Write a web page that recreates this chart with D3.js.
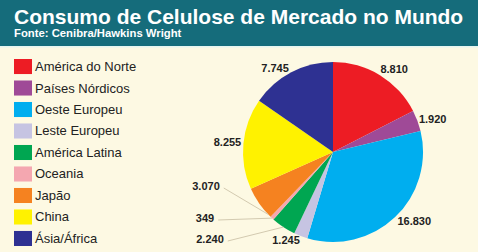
<!DOCTYPE html>
<html lang="pt">
<head>
  <meta charset="UTF-8">
  <title>Consumo de Celulose de Mercado no Mundo</title>
  <script src="https://cdn.jsdelivr.net/npm/d3@7/dist/d3.min.js"></script>
  <style>
    body { margin: 0; background: #fdf9e3; }
    svg { display: block; font-family: 'Liberation Sans', Arial, sans-serif; }
  </style>
</head>
<body>
  <svg id="chart" width="478" height="252"></svg>
  <script>
    const regions = ["América do Norte", "Países Nórdicos", "Oeste Europeu", "Leste Europeu",
      "América Latina", "Oceania", "Japão", "China", "Ásia/África"];
    const values = [8810, 1920, 16830, 1245, 2240, 349, 3070, 8255, 7745];
    const valueLabels = ["8.810", "1.920", "16.830", "1.245", "2.240", "349", "3.070", "8.255", "7.745"];
    const colors = ["#ed1c24", "#9f4a97", "#00aeef", "#c6c4e2", "#00a651", "#f4a7b0", "#f58220", "#fff200", "#2e3192"];

    const W = 478, H = 252;
    const svg = d3.select("#chart");

    svg.append("rect").attr("width", W).attr("height", H).attr("fill", "#fdf9e3");

    // header band
    svg.append("rect").attr("width", W).attr("height", 46).attr("fill", "#156c7b");
    svg.append("rect").attr("y", 46).attr("width", W).attr("height", 1.5).attr("fill", "#e6f5f0");
    svg.append("text").attr("x", 14).attr("y", 24)
      .attr("fill", "#fff").attr("font-weight", "bold").attr("font-size", 21)
      .text("Consumo de Celulose de Mercado no Mundo");
    svg.append("text").attr("x", 14).attr("y", 37)
      .attr("fill", "#fff").attr("font-weight", "bold").attr("font-size", 11.3)
      .text("Fonte: Cenibra/Hawkins Wright");

    // legend
    const legendY = d3.scaleBand().domain(regions).range([59, 246]).paddingInner(0.3);
    const legend = svg.append("g").selectAll("g").data(regions).join("g")
      .attr("transform", d => `translate(14,${legendY(d)})`);
    legend.append("rect").attr("width", 18).attr("height", legendY.bandwidth())
      .attr("fill", (d, i) => colors[i]);
    legend.append("text").attr("x", 21).attr("y", legendY.bandwidth() / 2 + 4.5)
      .attr("font-size", 13).attr("fill", "#222").text(d => d);

    // pie
    const cx = 333, cy = 152, r = 90;
    const pie = d3.pie().sort(null).value(d => d)(values);
    const arc = d3.arc().innerRadius(0).outerRadius(r);
    const rad = Math.PI / 180;

    const g = svg.append("g").attr("transform", `translate(${cx},${cy})`);
    g.selectAll("path").data(pie).join("path")
      .attr("d", arc).attr("fill", (d, i) => colors[i]);

    // label placement tweaks (degrees, radius) so labels sit like the original
    const nudge = { 0: [5, 103], 1: [2, 105], 2: [-6, 107], 3: [7, 100], 7: [0, 106], 8: [-7, 102] };
    // small slices get a leader line to a label at the left: [x, y, fraction along slice]
    const leader = { 4: [-123, 87, 0.5], 5: [-128, 66, 0.5], 6: [-127, 34, 0.1] };

    const polar = (a, rr) => [Math.sin(a) * rr, -Math.cos(a) * rr];

    pie.forEach((d, i) => {
      let x, y;
      const label = g.append("text").attr("text-anchor", "middle").attr("dy", "0.35em")
        .attr("font-weight", "bold").attr("font-size", 11).attr("fill", "#222")
        .text(valueLabels[i]);
      if (leader[i]) {
        const [lx, ly, f] = leader[i];
        x = lx; y = ly;
        const half = label.node().getComputedTextLength() / 2;
        const [px, py] = polar(d.startAngle + f * (d.endAngle - d.startAngle), r);
        g.insert("line", "text").attr("x1", x + half + 4).attr("y1", y + 2).attr("x2", px).attr("y2", py)
          .attr("stroke", "#d3cab0").attr("stroke-width", 1);
      } else {
        const [da, rr] = nudge[i] || [0, 104];
        [x, y] = polar((d.startAngle + d.endAngle) / 2 + da * rad, rr);
      }
      label.attr("x", x).attr("y", y);
    });
  </script>
</body>
</html>
